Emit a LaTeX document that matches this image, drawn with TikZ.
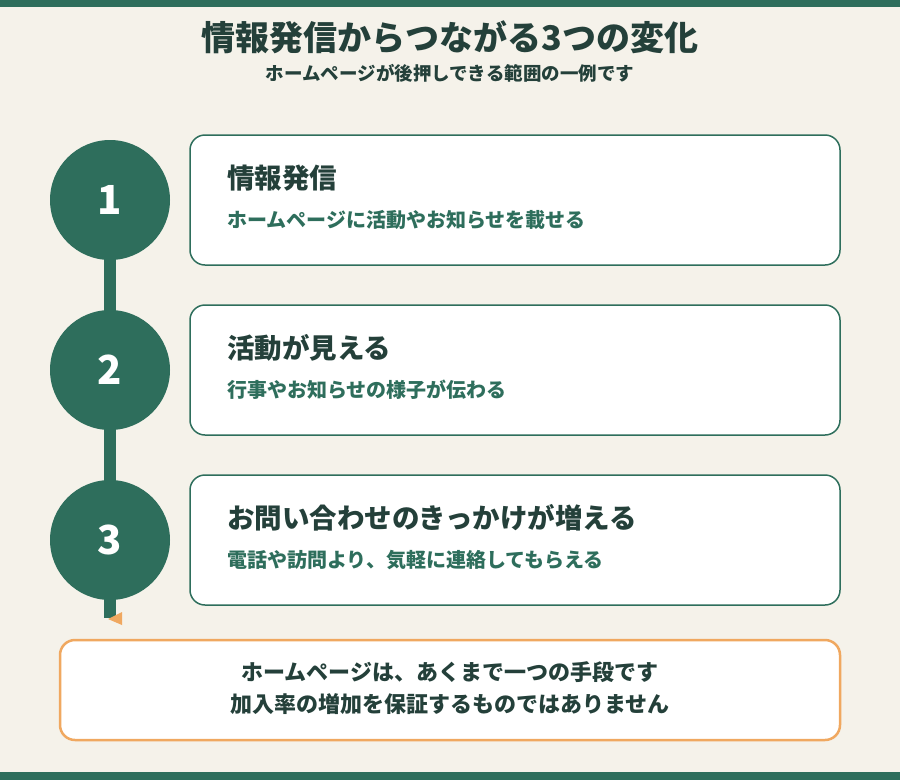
\documentclass[tikz,border=0pt]{standalone}
\usepackage{fontspec}
\setmainfont{Noto Sans CJK JP}
\definecolor{bgcream}{HTML}{F5F2EA}
\definecolor{darkgreen}{HTML}{2E6E5C}
\definecolor{inkgreen}{HTML}{24403A}
\definecolor{softorange}{HTML}{F0A860}
\tikzset{
  card/.style={draw=darkgreen,line width=1.5pt,fill=white,rounded corners=15pt},
  stepnum/.style={circle,fill=darkgreen,minimum size=120pt,inner sep=0pt,text=white,font=\fontsize{40}{44}\selectfont\bfseries},
  cardtitle/.style={anchor=west,inner sep=0pt,text=inkgreen,font=\fontsize{27.5}{32}\selectfont\bfseries},
  cardsub/.style={anchor=west,inner sep=0pt,text=darkgreen,font=\fontsize{20}{24}\selectfont\bfseries}
}
\begin{document}
\begin{tikzpicture}[x=1pt,y=-1pt]
		
		\fill[bgcream] (0,0) rectangle (900,780);
		\useasboundingbox (0,0) rectangle (900,780);
		
		% Bars
		\fill[darkgreen] (0,0) rectangle (900,7);
		\fill[darkgreen] (0,772) rectangle (900,780);
		
		% Heading
		\node[text=inkgreen,font=\fontsize{34}{38}\selectfont\bfseries] (title) at (450,37) {情報発信からつながる3つの変化};
		\node[text=inkgreen,font=\fontsize{18.5}{22}\selectfont\bfseries] (subtitle) at (450,73) {ホームページが後押しできる範囲の一例です};
		
		% Timeline
		\fill[darkgreen] (104,200) rectangle (116,618);
		\fill[softorange] (108,619) -- (122,612) -- (122,625) -- cycle;
		
		% Steps
		\foreach \n/\y/\head/\sub in {
			1/200/情報発信/ホームページに活動やお知らせを載せる,
			2/370/活動が見える/行事やお知らせの様子が伝わる,
			3/540/お問い合わせのきっかけが増える/電話や訪問より、気軽に連絡してもらえる}{
			\draw[card] (190,\y-65) rectangle (840,\y+65);
			\node[stepnum] (num\n) at (110,\y) {\n};
			\node[cardtitle] (head\n) at (227,\y-22) {\head};
			\node[cardsub] (sub\n) at (227,\y+20) {\sub};
		}
		
		% Note
		\draw[draw=softorange,line width=2.5pt,fill=white,rounded corners=15pt] (60,640) rectangle (840,740);
		\node[text=inkgreen,font=\fontsize{22}{32}\selectfont\bfseries,align=center] (note) at (450,688) {ホームページは、あくまで一つの手段です\\加入率の増加を保証するものではありません};
		
	\end{tikzpicture}
\end{document}
